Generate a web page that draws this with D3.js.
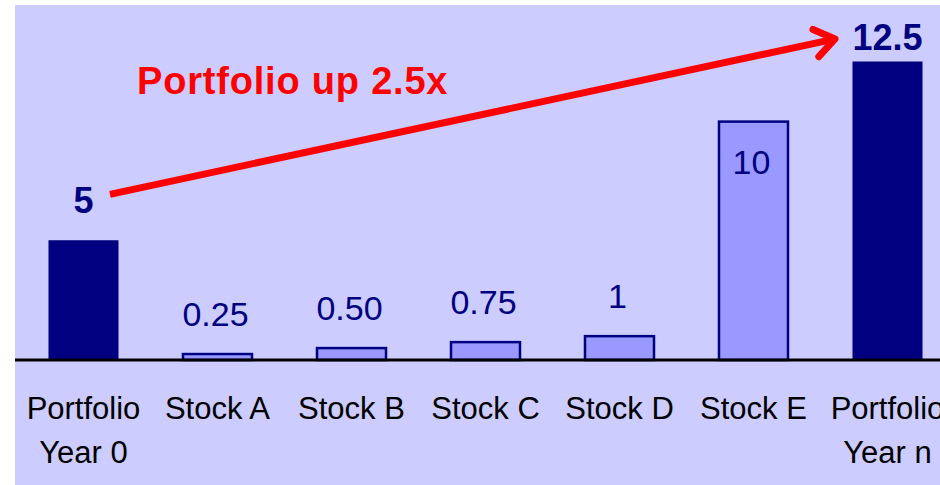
<!DOCTYPE html>
<html>
<head>
<meta charset="utf-8">
<script src="https://cdn.jsdelivr.net/npm/d3@7"></script>
<style>
  html, body { margin: 0; padding: 0; background: #ffffff; }
  svg { display: block; }
</style>
</head>
<body>
<svg id="chart" width="940" height="485"></svg>
<script>
// ---- Data ----
const categories = ["Portfolio\nYear 0", "Stock A", "Stock B", "Stock C", "Stock D", "Stock E", "Portfolio\nYear n"];
const values = [5, 0.25, 0.5, 0.75, 1, 10, 12.5];
const valueLabels = ["5", "0.25", "0.50", "0.75", "1", "10", "12.5"];
const isPortfolio = [true, false, false, false, false, false, true];
const annotation = "Portfolio up 2.5x";

// ---- Layout ----
const W = 940, H = 485;
const svg = d3.select("#chart");
const plot = { left: 15, top: 5 };
const baseY = 360;

svg.append("rect").attr("x", plot.left).attr("y", plot.top)
  .attr("width", W - plot.left).attr("height", H - plot.top)
  .attr("fill", "#CCCCFF");

const x = d3.scaleBand()
  .domain(categories)
  .range([16.5, 954.5])
  .paddingInner(0.485)
  .paddingOuter(0.2425);

const y = d3.scaleLinear().domain([0, 12.5]).range([baseY, 62]);

const data = categories.map((c, i) => ({ c, v: values[i], label: valueLabels[i], port: isPortfolio[i] }));

// bars
svg.append("g").selectAll("rect").data(data).join("rect")
  .attr("x", d => x(d.c))
  .attr("y", d => y(d.v))
  .attr("width", x.bandwidth())
  .attr("height", d => baseY - y(d.v))
  .attr("fill", d => d.port ? "#000080" : "#9999FF")
  .attr("stroke", "#000080")
  .attr("stroke-width", d => d.port ? 1 : 2.5);

// baseline
svg.append("line").attr("x1", plot.left).attr("x2", W)
  .attr("y1", baseY).attr("y2", baseY)
  .attr("stroke", "#000").attr("stroke-width", 3);

// value labels
svg.append("g").selectAll("text").data(data).join("text")
  .attr("x", d => x(d.c) + x.bandwidth() / 2 - (d.port ? 0 : 2))
  .attr("y", d => {
    const top = y(d.v);
    if (!d.port && baseY - top > 200) return top + 52; // tall bar: label inside
    return Math.max(top - 28, 50);
  })
  .attr("text-anchor", "middle")
  .attr("font-family", "Arial, 'Liberation Sans', sans-serif")
  .attr("font-size", d => d.port ? 36 : 34)
  .attr("font-weight", d => d.port ? "bold" : "normal")
  .attr("fill", "#000080")
  .text(d => d.label);

// category labels
const catG = svg.append("g");
data.forEach(d => {
  const lines = d.c.split("\n");
  const t = catG.append("text")
    .attr("text-anchor", "middle")
    .attr("font-family", "Arial, 'Liberation Sans', sans-serif")
    .attr("font-size", 31)
    .attr("fill", "#000");
  lines.forEach((ln, k) => {
    t.append("tspan")
      .attr("x", x(d.c) + x.bandwidth() / 2)
      .attr("y", 419 + k * 44)
      .text(ln);
  });
});

// arrow from first portfolio label to last portfolio label
const first = data[0], last = data[data.length - 1];
const x0 = x(first.c) + x.bandwidth() / 2 + 26.5, y0 = y(first.v) - 46.5;
const x1 = x(last.c) + x.bandwidth() / 2 - 52.5, y1 = 39;
svg.append("line")
  .attr("x1", x0).attr("y1", y0).attr("x2", x1 - 3).attr("y2", y1 + 0.6)
  .attr("stroke", "#FF0000").attr("stroke-width", 7);
const ang = Math.atan2(y1 - y0, x1 - x0);
const armLen = 24, spread = 0.62;
const arm = s => [x1 - armLen * Math.cos(ang + s), y1 - armLen * Math.sin(ang + s)];
const a1 = arm(spread), a2 = arm(-spread);
svg.append("path")
  .attr("d", `M${a1[0]},${a1[1]} L${x1},${y1} L${a2[0]},${a2[1]}`)
  .attr("fill", "none").attr("stroke", "#FF0000").attr("stroke-width", 7)
  .attr("stroke-linecap", "round").attr("stroke-linejoin", "round");

// annotation
svg.append("text")
  .attr("x", 137).attr("y", 94)
  .attr("font-family", "Arial, 'Liberation Sans', sans-serif")
  .attr("font-size", 38).attr("font-weight", "bold")
  .attr("letter-spacing", 0.8)
  .attr("fill", "#FF0000")
  .text(annotation);
</script>
</body>
</html>
